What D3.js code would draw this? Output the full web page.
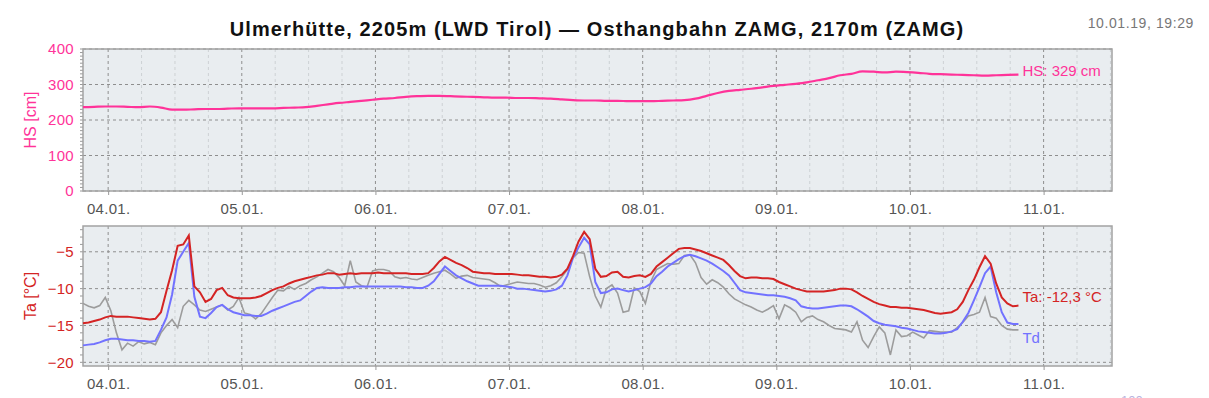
<!DOCTYPE html>
<html>
<head>
<meta charset="utf-8">
<script src="https://cdn.jsdelivr.net/npm/d3@7"></script>
<style>
  body { margin: 0; background: #fff; }
  svg text { font-family: "Liberation Sans", Arial, sans-serif; }
</style>
</head>
<body>
<div id="chart"></div>
<script>
// time base of the series (measurement window ends 10.01.19, 19:29)
const seriesStart = new Date(2019, 0, 3, 19, 29);
const axisEnd = new Date(2019, 0, 11, 12, 17);
const hsStepHours = 2;      // HS
const tStepHours = 1;       // Ta, Td, gray

// snow height HS [cm], every 2h
const hsValues = [236, 237, 238, 238, 237, 236, 238, 235, 229, 229, 230, 231, 231, 232, 233, 233, 233, 233, 234, 235,
  236, 240, 244, 248, 251, 254, 257, 260, 262, 265, 267, 268, 268, 267, 266, 265, 264, 263, 263, 262,
  262, 261, 260, 258, 256, 255, 255, 254, 254, 253, 253, 253, 254, 255, 256, 260, 268, 276, 282, 285,
  288, 292, 296, 299, 302, 306, 312, 318, 326, 330, 337, 336, 334, 336, 335, 333, 330, 329, 328, 327,
  326, 325, 326, 327, 328];

// air temperature Ta [°C], every 1h
const taValues = [-14.7, -14.6, -14.4, -14.2, -13.9, -13.7, -13.8, -13.8, -13.8, -13.9, -14.0, -14.1, -14.2, -14.1, -13.2, -10.3, -7.5, -4.2, -4.0, -2.8,
  -9.7, -10.5, -11.8, -11.4, -10.2, -9.9, -10.9, -11.2, -11.3, -11.3, -11.3, -11.2, -11.0, -10.6, -10.2, -9.9, -9.7, -9.3, -9.0, -8.8,
  -8.6, -8.4, -8.2, -8.1, -7.9, -7.9, -8.1, -8.0, -7.9, -8.0, -7.9, -7.9, -7.9, -7.8, -7.9, -7.9, -7.9, -7.9, -7.9, -8.0,
  -8.0, -8.0, -7.9, -7.2, -6.3, -5.7, -6.1, -6.5, -6.8, -7.2, -7.7, -7.8, -7.9, -7.9, -8.0, -8.0, -8.0, -8.0, -8.1, -8.2,
  -8.2, -8.3, -8.4, -8.4, -8.5, -8.4, -8.1, -7.3, -5.6, -3.6, -2.3, -3.3, -7.3, -8.4, -8.3, -7.8, -7.7, -8.4, -8.5, -8.3,
  -8.2, -8.4, -8.0, -7.0, -6.4, -5.8, -5.2, -4.6, -4.5, -4.5, -4.7, -4.9, -5.2, -5.5, -5.8, -6.1, -6.8, -7.6, -8.3, -8.6,
  -8.5, -8.5, -8.6, -8.6, -8.7, -9.1, -9.4, -9.7, -10.0, -10.2, -10.4, -10.4, -10.4, -10.4, -10.3, -10.2, -10.0, -10.0, -10.1, -10.5,
  -11.0, -11.4, -11.8, -12.1, -12.3, -12.5, -12.5, -12.6, -12.6, -12.7, -12.8, -12.9, -13.1, -13.3, -13.4, -13.3, -13.2, -12.8, -11.8, -10.2,
  -8.8, -7.1, -5.6, -6.6, -9.3, -11.2, -12.0, -12.4, -12.3];

// dew point Td [°C], every 1h
const tdValues = [-17.7, -17.6, -17.5, -17.3, -17.0, -16.8, -16.8, -16.9, -17.0, -17.0, -17.1, -17.1, -17.2, -17.1, -15.6, -13.9, -10.8, -6.2, -5.0, -3.8,
  -11.1, -13.8, -14.0, -13.3, -12.5, -12.2, -12.8, -13.2, -13.4, -13.6, -13.6, -13.7, -13.7, -13.4, -13.0, -12.7, -12.4, -12.1, -11.8, -11.6,
  -11.0, -10.4, -9.9, -9.8, -9.9, -9.9, -9.9, -9.8, -9.8, -9.7, -9.7, -9.7, -9.7, -9.7, -9.7, -9.7, -9.7, -9.7, -9.8, -9.8,
  -9.9, -9.9, -9.6, -9.0, -8.0, -7.0, -7.6, -8.2, -8.6, -9.0, -9.3, -9.6, -9.6, -9.6, -9.6, -9.6, -9.7, -9.8, -10.0, -10.0,
  -10.1, -10.2, -10.3, -10.4, -10.3, -10.1, -9.6, -8.2, -5.8, -4.4, -3.1, -4.0, -9.1, -10.6, -10.5, -10.1, -10.0, -10.2, -10.4, -10.2,
  -10.0, -9.8, -9.3, -8.3, -7.7, -7.0, -6.5, -6.0, -5.6, -5.4, -5.6, -5.9, -6.2, -6.6, -7.1, -7.6, -8.2, -9.2, -10.2, -10.5,
  -10.6, -10.7, -10.8, -10.9, -10.9, -11.0, -11.1, -11.3, -11.6, -12.4, -12.6, -12.7, -12.7, -12.6, -12.5, -12.4, -12.3, -12.3, -12.4, -12.8,
  -13.3, -13.8, -14.4, -14.7, -14.9, -15.0, -15.1, -15.3, -15.4, -15.6, -15.8, -15.9, -16.0, -16.1, -16.1, -16.0, -15.8, -15.5, -14.5, -13.3,
  -11.6, -9.8, -7.9, -7.0, -10.5, -13.2, -14.6, -14.8, -14.8];

// gray temperature series [°C], every 1h
const grayValues = [-12.0, -12.4, -12.6, -12.3, -11.2, -13.0, -16.0, -18.3, -17.4, -17.8, -17.2, -17.5, -17.3, -17.6, -16.0, -15.0, -14.2, -15.3, -12.4, -11.6,
  -12.2, -12.9, -13.1, -12.8, -12.5, -12.2, -12.9, -12.4, -11.2, -13.3, -13.5, -14.1, -13.4, -12.3, -11.2, -10.2, -10.3, -9.7, -10.1, -9.6,
  -9.3, -8.8, -8.4, -7.9, -7.4, -7.7, -8.5, -9.6, -6.2, -9.1, -9.6, -9.8, -7.6, -7.4, -7.4, -7.6, -8.4, -8.6, -8.5, -8.7,
  -8.8, -8.5, -8.2, -7.9, -7.7, -7.5, -8.0, -8.6, -8.3, -8.2, -8.5, -8.6, -8.7, -8.8, -9.2, -9.7, -9.5, -9.3, -9.1, -9.2,
  -9.3, -9.3, -9.5, -9.8, -9.6, -9.2, -8.4, -7.4, -5.8, -5.1, -5.2, -8.4, -11.0, -12.5, -10.0, -9.5, -10.6, -13.2, -13.0, -9.9,
  -10.4, -12.0, -9.0, -7.4, -7.0, -6.6, -6.7, -6.6, -5.5, -5.4, -6.5, -8.5, -9.4, -8.8, -9.2, -9.8, -10.7, -11.4, -11.8, -12.2,
  -12.5, -12.9, -13.2, -12.8, -12.3, -14.1, -12.2, -12.6, -13.2, -14.5, -13.9, -13.7, -14.2, -14.5, -15.0, -15.4, -15.5, -15.6, -15.9, -14.5,
  -17.0, -18.0, -16.5, -15.2, -16.0, -19.0, -15.6, -16.5, -16.4, -15.9, -16.3, -16.7, -15.7, -15.8, -15.9, -15.9, -15.9, -15.3, -14.6, -13.7,
  -13.5, -13.2, -11.2, -13.8, -14.0, -15.0, -15.5, -15.6, -15.6];

// axis ticks
const hsTicks = [0, 100, 200, 300, 400];
const taTicks = [-20, -15, -10, -5];

const title = "Ulmerhütte, 2205m (LWD Tirol) — Osthangbahn ZAMG, 2170m (ZAMG)";
const stamp = "10.01.19, 19:29";

const width = 1209, height = 398;
const left = 83, right = 1112;

const svg = d3.select("#chart").append("svg")
    .attr("width", width)
    .attr("height", height);

const x = d3.scaleTime().domain([seriesStart, axisEnd]).range([left, right]);
const timeAt = (i, h) => new Date(+seriesStart + i * h * 3600e3);

const hsData = hsValues.map((v, i) => ({t: timeAt(i, hsStepHours), v}));
const taData = taValues.map((v, i) => ({t: timeAt(i, tStepHours), v}));
const tdData = tdValues.map((v, i) => ({t: timeAt(i, tStepHours), v}));
const grayData = grayValues.map((v, i) => ({t: timeAt(i, tStepHours), v}));

const yHs = d3.scaleLinear().domain([0, 400]).range([191, 49]);
const yTa = d3.scaleLinear().domain([-20.5, -1.5]).range([366, 226]);

// title + timestamp
svg.append("text")
    .attr("x", 597).attr("y", 36)
    .attr("text-anchor", "middle")
    .style("font-size", "20px").style("font-weight", "bold").style("letter-spacing", "1.1px")
    .attr("fill", "#111")
    .text(title);

svg.append("text")
    .attr("x", 1194).attr("y", 28)
    .attr("text-anchor", "end")
    .style("font-size", "14px").style("letter-spacing", "0.6px").attr("fill", "#777")
    .text(stamp);

function drawPanel(y, ticks, minorStep, color, axisTitle) {
    const [y1, y0] = y.range();
    const g = svg.append("g");

    g.append("rect")
        .attr("x", left).attr("y", y0)
        .attr("width", right - left).attr("height", y1 - y0)
        .attr("fill", "#e9edf0");

    // vertical grid, 6h minor + daily major
    const minor = d3.timeHour.every(6).range(seriesStart, axisEnd).filter(d => d.getHours() !== 0);
    g.selectAll(".vminor").data(minor).join("line")
        .attr("x1", d => x(d)).attr("x2", d => x(d))
        .attr("y1", y0).attr("y2", y1)
        .attr("stroke", "#cdd1d4").attr("stroke-dasharray", "3,3");

    const days = d3.timeDay.range(seriesStart, axisEnd);
    g.selectAll(".vmajor").data(days).join("line")
        .attr("x1", d => x(d)).attr("x2", d => x(d))
        .attr("y1", y0).attr("y2", y1)
        .attr("stroke", "#8e8e8e").attr("stroke-dasharray", "3,3");

    g.selectAll(".hgrid").data(ticks).join("line")
        .attr("x1", left).attr("x2", right)
        .attr("y1", d => y(d)).attr("y2", d => y(d))
        .attr("stroke", "#8e8e8e").attr("stroke-dasharray", "3,3");

    // minor y ticks
    const [d0, d1] = y.domain();
    const minorTicks = d3.range(Math.ceil(d0 / minorStep) * minorStep, d1 + 1e-9, minorStep);
    g.selectAll(".ymin").data(minorTicks).join("line")
        .attr("x1", left - 3).attr("x2", left)
        .attr("y1", d => y(d)).attr("y2", d => y(d))
        .attr("stroke", "#999");

    g.append("rect")
        .attr("x", left).attr("y", y0)
        .attr("width", right - left).attr("height", y1 - y0)
        .attr("fill", "none").attr("stroke", "#a3a3a3").attr("stroke-width", 1.5);

    // y axis labels
    const ya = g.append("g")
        .attr("transform", `translate(${left},0)`)
        .call(d3.axisLeft(y).tickValues(ticks).tickSize(0).tickPadding(9));
    ya.select(".domain").remove();
    ya.selectAll("text")
        .attr("fill", color)
        .style("font-size", "15px").style("letter-spacing", "0.3px");

    g.append("text")
        .attr("transform", `translate(36,${(y0 + y1) / 2}) rotate(-90)`)
        .attr("text-anchor", "middle")
        .attr("fill", color)
        .style("font-size", "16px")
        .text(axisTitle);

    // x axis
    const xa = g.append("g")
        .attr("transform", `translate(0,${y1})`)
        .call(d3.axisBottom(x).ticks(d3.timeDay.every(1))
            .tickFormat(d3.timeFormat("%d.%m.")).tickSize(4).tickPadding(8));
    xa.select(".domain").remove();
    xa.selectAll("line").attr("stroke", "#999");
    xa.selectAll("text")
        .attr("fill", "#555")
        .style("font-size", "15px").style("letter-spacing", "0.3px");
    return g;
}

const hsPanel = drawPanel(yHs, hsTicks, 10, "#ff3399", "HS [cm]");
const taPanel = drawPanel(yTa, taTicks, 1, "#d42424", "Ta [°C]");

const lineHs = d3.line().x(d => x(d.t)).y(d => yHs(d.v)).curve(d3.curveMonotoneX);
const lineTa = d3.line().x(d => x(d.t)).y(d => yTa(d.v));

hsPanel.append("path").datum(hsData)
    .attr("d", lineHs).attr("fill", "none")
    .attr("stroke", "#ff3399").attr("stroke-width", 2.2);

taPanel.append("path").datum(grayData)
    .attr("d", lineTa).attr("fill", "none")
    .attr("stroke", "#9c9c9c").attr("stroke-width", 1.6);

taPanel.append("path").datum(tdData)
    .attr("d", lineTa).attr("fill", "none")
    .attr("stroke", "#7272ff").attr("stroke-width", 2);

taPanel.append("path").datum(taData)
    .attr("d", lineTa).attr("fill", "none")
    .attr("stroke", "#d42424").attr("stroke-width", 2);

// end labels
const lastHs = hsData[hsData.length - 1];
hsPanel.append("text")
    .attr("x", x(lastHs.t) + 4).attr("y", 76)
    .attr("fill", "#ff3399").style("font-size", "15px")
    .text("HS: 329 cm");

const lastTa = taData[taData.length - 1];
taPanel.append("text")
    .attr("x", x(lastTa.t) + 4).attr("y", 302)
    .attr("fill", "#d42424").style("font-size", "15px")
    .text("Ta: -12,3 °C");

taPanel.append("text")
    .attr("x", x(lastTa.t) + 4).attr("y", 343)
    .attr("fill", "#7272ff").style("font-size", "15px")
    .text("Td");

// faint scale text, cut off by the bottom edge as in the original
svg.append("text")
    .attr("x", 1121).attr("y", 405)
    .attr("fill", "#b9b4dd").style("font-size", "13px")
    .text("100");
</script>
</body>
</html>
